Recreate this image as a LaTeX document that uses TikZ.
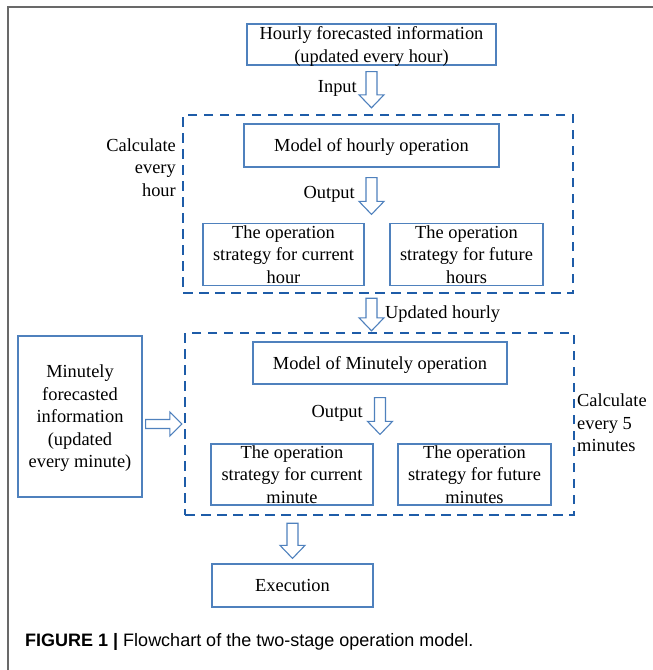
\documentclass[tikz,border=0pt]{standalone}
\usepackage{fontspec}
\setmainfont{Liberation Serif}
\newfontfamily\captionfont{Liberation Sans}
\usetikzlibrary{positioning,calc}
\definecolor{boxblue}{RGB}{79,129,189}
\definecolor{frameblue}{RGB}{30,92,168}
\definecolor{pagegray}{RGB}{105,105,105}

% hollow block arrows, from a start point to a tip
\newcommand{\downblock}[2]{%
  \draw[blockarrow] let \p1=(#1), \p2=(#2) in
    (\x1-5.5pt,\y1) -- (\x1+5.5pt,\y1) -- (\x1+5.5pt,\y2+13pt)
    -- (\x1+12.5pt,\y2+13pt) -- (\x1,\y2) -- (\x1-12.5pt,\y2+13pt)
    -- (\x1-5.5pt,\y2+13pt) -- cycle;}
\newcommand{\rightblock}[2]{%
  \draw[blockarrow] let \p1=(#1), \p2=(#2) in
    (\x1,\y1+4.5pt) -- (\x1,\y1-4.5pt) -- (\x2-12pt,\y1-4.5pt)
    -- (\x2-12pt,\y1-12pt) -- (\x2,\y1) -- (\x2-12pt,\y1+12pt)
    -- (\x2-12pt,\y1+4.5pt) -- cycle;}

\begin{document}
\begin{tikzpicture}[x=1pt,y=-1pt,
    font=\fontsize{18.4}{22.5}\selectfont,
    infobox/.style={draw=boxblue, line width=1.2pt, inner sep=0pt, align=center, text depth=0pt},
    calcframe/.style={draw=frameblue, line width=2.4pt, dash pattern=on 9.5pt off 6.5pt, inner sep=0pt},
    blockarrow/.style={draw=boxblue, line width=1.1pt, fill=white, line join=miter},
    tag/.style={inner sep=0pt}]
  \useasboundingbox (0,0) rectangle (653,670);
  % page edge
  \draw[pagegray, line width=1.4pt] (8,670) -- (8,7) -- (653,7);

  % dashed calculation frames
  \node[calcframe, minimum width=390pt, minimum height=178pt] (hourFrame) at (378,204) {};
  \node[calcframe, minimum width=389pt, minimum height=182pt] (minuteFrame) at (379.5,424) {};
  \node[tag, align=right, anchor=east] (hourCalc) at (176,167.5) {Calculate\\every\\hour};
  \node[tag, align=left, anchor=west] (minuteCalc) at (577,423) {Calculate\\every 5\\minutes};

  % hourly stage
  \node[infobox, minimum width=249pt, minimum height=41pt] (hourlyInfo) at (371.5,44.5)
    {Hourly forecasted information\\(updated every hour)};
  \node[infobox, minimum width=255pt, minimum height=43pt] (hourlyModel) at (371.5,145.5)
    {Model of hourly operation};
  \node[infobox, minimum width=161pt, minimum height=62pt] (hourCurrent) at (283.5,254.5)
    {The operation\\strategy for current\\hour};
  \node[infobox, minimum width=153pt, minimum height=62pt] (hourFuture) at (466.5,254.5)
    {The operation\\strategy for future\\hours};

  % minutely stage
  \node[infobox, minimum width=254pt, minimum height=42pt] (minuteModel) at (380,363)
    {Model of Minutely operation};
  \node[infobox, minimum width=162pt, minimum height=61pt] (minuteCurrent) at (292,474.5)
    {The operation\\strategy for current\\minute};
  \node[infobox, minimum width=153pt, minimum height=61pt] (minuteFuture) at (474.5,474.5)
    {The operation\\strategy for future\\minutes};
  \node[infobox, minimum width=124pt, minimum height=161pt] (minuteInfo) at (80,416.5)
    {Minutely\\forecasted\\information\\(updated\\every minute)};
  \node[infobox, minimum width=161pt, minimum height=43pt] (execBox) at (292.5,585.5)
    {Execution};

  % arrow ends
  \path (hourlyInfo.south) ++(0,6) coordinate (inputTop);
  \path (hourlyInfo.south |- hourFrame.north) ++(0,-6) coordinate (inputTip);
  \path (hourlyModel.south) ++(0,10) coordinate (hourOutTop);
  \path (hourlyModel.south |- hourCurrent.north) ++(0,-8.5) coordinate (hourOutTip);
  \path (hourlyInfo.south |- hourFrame.south) ++(0,4) coordinate (updateTop);
  \path (hourlyInfo.south |- minuteFrame.north) ++(0,-1) coordinate (updateTip);
  \path (minuteModel.south) ++(0,13) coordinate (minuteOutTop);
  \path (minuteModel.south |- minuteCurrent.north) ++(0,-9) coordinate (minuteOutTip);
  \path (execBox.north |- minuteFrame.south) ++(0,7) coordinate (execTop);
  \path (execBox.north) ++(0,-5) coordinate (execTip);
  \path (minuteInfo.east) ++(3,7.5) coordinate (feedStart);
  \path (minuteFrame.west |- feedStart) ++(-2,0) coordinate (feedTip);

  \downblock{inputTop}{inputTip}
  \downblock{hourOutTop}{hourOutTip}
  \downblock{updateTop}{updateTip}
  \downblock{minuteOutTop}{minuteOutTip}
  \downblock{execTop}{execTip}
  \rightblock{feedStart}{feedTip}

  \node[tag, anchor=east] (inputLbl) at (357,88) {Input};
  \node[tag, anchor=east] (hourOutLbl) at (355,194) {Output};
  \node[tag, anchor=west] (updateLbl) at (385,314) {Updated hourly};
  \node[tag, anchor=east] (minuteOutLbl) at (363,413) {Output};

  % caption
  \node[tag, anchor=base west, font=\captionfont\fontsize{18}{20}\selectfont] (caption) at (25,646)
    {\textbf{FIGURE 1 |} Flowchart of the two-stage operation model.};
\end{tikzpicture}
\end{document}
